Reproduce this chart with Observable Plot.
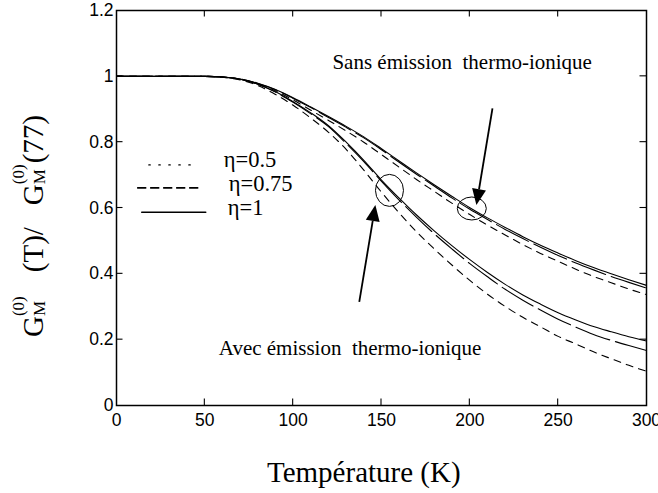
<!DOCTYPE html>
<html><head><meta charset="utf-8">
<script src="https://cdn.jsdelivr.net/npm/d3@7"></script>
<script src="https://cdn.jsdelivr.net/npm/@observablehq/plot@0.6"></script>
<style>
html,body{margin:0;padding:0;background:#fff;}
#chart{width:658px;height:493px;}
</style></head><body><div id="chart"></div>
<script>
// ---- data ----
const temps = [0,50,60,70,80,90,100,110,120,130,140,150,160,170,180,190,200,210,220,230,240,250,260,270,280,290,300];
// "Sans émission thermo-ionique"
const sansEta1   = [1,1.000,0.998,0.992,0.979,0.960,0.935,0.907,0.878,0.848,0.816,0.780,0.743,0.706,0.670,0.635,0.601,0.570,0.541,0.513,0.487,0.463,0.440,0.419,0.400,0.382,0.365];
const sansEta05  = [1,1.000,0.998,0.992,0.978,0.959,0.933,0.905,0.875,0.845,0.813,0.777,0.739,0.702,0.666,0.630,0.596,0.565,0.535,0.507,0.481,0.456,0.433,0.412,0.392,0.374,0.357];
const sansEta075 = [1,1.000,0.998,0.991,0.977,0.956,0.928,0.897,0.866,0.834,0.800,0.762,0.724,0.686,0.650,0.614,0.580,0.548,0.518,0.489,0.462,0.438,0.414,0.392,0.373,0.354,0.337];
// "Avec émission thermo-ionique"
const avecEta1   = [1,1.000,0.998,0.991,0.976,0.953,0.923,0.889,0.850,0.800,0.745,0.685,0.630,0.578,0.530,0.485,0.443,0.404,0.368,0.336,0.308,0.282,0.260,0.240,0.224,0.209,0.196];
const avecEta05  = [1,1.000,0.998,0.991,0.976,0.952,0.921,0.886,0.847,0.796,0.741,0.681,0.624,0.571,0.521,0.475,0.431,0.391,0.353,0.320,0.290,0.262,0.238,0.216,0.198,0.182,0.167];
const avecEta075 = [1,1.000,0.997,0.989,0.972,0.945,0.912,0.873,0.830,0.778,0.715,0.648,0.585,0.527,0.475,0.426,0.380,0.338,0.301,0.268,0.239,0.210,0.187,0.163,0.142,0.122,0.104];

const xTicks = [0,50,100,150,200,250,300];
const yTicks = [0,0.2,0.4,0.6,0.8,1,1.2];
const yTickLabels = ["0","0.2","0.4","0.6","0.8","1","1.2"];
const legendLabels = ["η=0.5","η=0.75","η=1"];
const annotationTexts = ["Sans émission\u00a0 thermo-ionique","Avec émission\u00a0 thermo-ionique"];
const xTitle = "Température (K)";

// ---- layout / style (not data) ----
const serif = "'Liberation Serif','Times New Roman',serif";
const narrow = "'Liberation Sans Narrow','Arial Narrow','Liberation Sans',sans-serif";
const dashStyles = {"η=0.5": "36,6", "η=0.75": "7,6", "η=1": null};
const legendDash = {"η=0.5": "1.4,8.6", "η=0.75": "8,5", "η=1": null};
const legendLayout = [ // T0,T1 of sample line, v of line, T of label, v of label baseline
  {T0:18.3, T1:46.5, v:0.731, Tl:60.7, vl:0.726},
  {T0:12.0, T1:47.7, v:0.661, Tl:63.5, vl:0.653},
  {T0:14.3, T1:50.5, v:0.587, Tl:63.0, vl:0.580}
];
const annotationLayout = [{T:122.2, v:1.043},{T:57.9, v:0.173}];
const ellipses = [{T:154.8, v:0.652, rx:14, ry:16},{T:201.4, v:0.597, rx:14.5, ry:11.5}];
const arrows = [{T1:137.7, v1:0.313, T2:146.8, v2:0.6075},{T1:213.1, v1:0.901, T2:204.0, v2:0.6075}];

const series = [
  {key:"sans-1", eta:"η=1", values:sansEta1},
  {key:"sans-05", eta:"η=0.5", values:sansEta05},
  {key:"sans-075", eta:"η=0.75", values:sansEta075},
  {key:"avec-1", eta:"η=1", values:avecEta1},
  {key:"avec-05", eta:"η=0.5", values:avecEta05},
  {key:"avec-075", eta:"η=0.75", values:avecEta075}
];
const rows = series.flatMap(s => temps.map((T,i) => ({T, v:s.values[i], key:s.key, eta:s.eta})));

const curveMarks = legendLabels.map(eta => Plot.line(rows.filter(r => r.eta === eta), {
  x:"T", y:"v", z:"key", stroke:"black", strokeWidth:1.1, curve:"monotone-x",
  strokeDasharray: dashStyles[eta] || undefined
}));

const legendMarks = legendLabels.flatMap((lab,i) => {
  const L = legendLayout[i];
  return [
    Plot.line([[L.T0,L.v],[L.T1,L.v]], {stroke:"black", strokeWidth: i===0?1.3:1.6, strokeDasharray: legendDash[lab] || undefined}),
    Plot.text([lab], {x:()=>L.Tl, y:()=>L.vl, text:d=>d, textAnchor:"start", lineAnchor:"bottom", fontSize:22.5, fontFamily:serif, fill:"black"})
  ];
});

const annMarks = Plot.text(annotationTexts.map((t,i)=>({t, ...annotationLayout[i]})), {
  x:"T", y:"v", text:"t", textAnchor:"start", lineAnchor:"middle", fontSize:21, fontFamily:serif, fill:"black"
});

const chart = Plot.plot({
  width:658, height:493,
  marginLeft:116, marginRight:12, marginTop:10, marginBottom:88,
  x:{domain:[0,300]}, y:{domain:[0,1.2]},
  style:{background:"white", color:"black"},
  marks:[
    Plot.axisX(xTicks, {tickSize:0, tickPadding:8, label:null, fontSize:17.5, fontFamily:narrow}),
    Plot.axisY(yTicks, {tickSize:0, tickPadding:3, label:null, fontSize:17.5, fontFamily:narrow,
      tickFormat: d => yTickLabels[yTicks.indexOf(d)]}),
    ...curveMarks,
    ...legendMarks,
    annMarks,
    Plot.frame({stroke:"black", strokeWidth:1.5})
  ]
});
document.getElementById("chart").appendChild(chart);

// ---- extras drawn through the plot's scales ----
const sx = chart.scale("x"), sy = chart.scale("y");
const svg = d3.select(chart);
svg.selectAll("text").attr("fill","black");
svg.selectAll('g[aria-label="x-axis tick label"], g[aria-label="y-axis tick label"]')
  .attr("font-family", narrow).attr("font-size", 17.5);

const X0 = sx.apply(0), X1 = sx.apply(300), Y0 = sy.apply(0), Y1 = sy.apply(1.2);
const tl = 6.5;
const tg = svg.append("g").attr("stroke","black").attr("stroke-width",1.1);
xTicks.filter(t => t>0 && t<300).forEach(t => {
  const px = sx.apply(t);
  tg.append("line").attr("x1",px).attr("x2",px).attr("y1",Y0).attr("y2",Y0-tl);
  tg.append("line").attr("x1",px).attr("x2",px).attr("y1",Y1).attr("y2",Y1+tl);
});
yTicks.filter(t => t>0 && t<1.2).forEach(t => {
  const py = sy.apply(t);
  tg.append("line").attr("x1",X0).attr("x2",X0+tl).attr("y1",py).attr("y2",py);
  tg.append("line").attr("x1",X1).attr("x2",X1-tl).attr("y1",py).attr("y2",py);
});

// ellipses
ellipses.forEach(e => {
  svg.append("ellipse").attr("cx",sx.apply(e.T)).attr("cy",sy.apply(e.v))
    .attr("rx",e.rx).attr("ry",e.ry).attr("fill","none").attr("stroke","black").attr("stroke-width",1);
});
// arrows with filled heads
arrows.forEach(a => {
  const x1 = sx.apply(a.T1), y1 = sy.apply(a.v1), x2 = sx.apply(a.T2), y2 = sy.apply(a.v2);
  const dx = x2-x1, dy = y2-y1, len = Math.hypot(dx,dy), ux = dx/len, uy = dy/len;
  const hl = 16, hw = 7;
  const bx = x2 - ux*hl, by = y2 - uy*hl;
  svg.append("line").attr("x1",x1).attr("y1",y1).attr("x2",bx).attr("y2",by)
    .attr("stroke","black").attr("stroke-width",1.8);
  svg.append("path").attr("d",`M${x2},${y2}L${bx - uy*hw},${by + ux*hw}L${bx + uy*hw},${by - ux*hw}Z`)
    .attr("fill","black");
});

// x-axis title
svg.append("text").attr("x",267).attr("y",482).attr("text-anchor","start")
  .attr("font-family",serif).attr("font-size",29).attr("fill","black").text(xTitle);

// y-axis title: G^(0)_M (T)/ G^(0)_M(77), laid out along the rotated baseline
const yg = svg.append("g").attr("transform","translate(43,337) rotate(-90)")
  .attr("font-family",serif).attr("fill","black").attr("text-anchor","start");
const put = (t, x, y, size) => {
  const el = yg.append("text").attr("x",x).attr("y",y).attr("font-size",size).text(t);
  return el.node().getComputedTextLength();
};
let cur = 0;
const main = 29, small = 17, supY = -19.5, subY = 2;
const stack = () => {
  const w1 = put("(0)", cur, supY, small);
  const w2 = put("M", cur, subY, small);
  cur += Math.max(w1, w2);
};
cur += put("G", cur, 0, main);
stack();
cur += 24;
cur += put("(T)/", cur, 0, main);
cur += 22;
cur += put("G", cur, 0, main);
stack();
cur += 1;
cur += put("(77)", cur, 0, main);
</script></body></html>
